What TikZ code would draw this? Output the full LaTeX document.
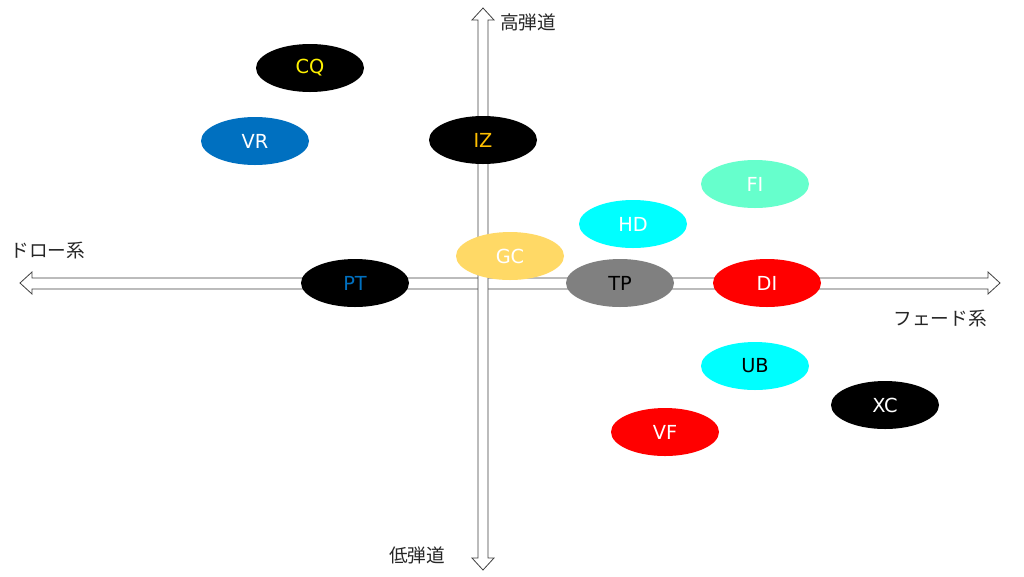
\documentclass[tikz,border=0pt]{standalone}
\usepackage{fontspec}
\setmainfont{DejaVu Sans}
\newfontfamily\jpfont{Noto Sans CJK JP}
\usetikzlibrary{positioning,shapes.geometric}
\definecolor{vrblue}{RGB}{0,112,192}
\definecolor{izorange}{RGB}{255,192,0}
\definecolor{fiaqua}{RGB}{102,255,204}
\definecolor{gcgold}{RGB}{255,217,102}
\definecolor{tpgray}{RGB}{128,128,128}
\definecolor{hdcyan}{RGB}{0,255,255}
\begin{document}
\begin{tikzpicture}[x=0.75pt,y=-0.75pt]
  \tikzstyle{team}=[ellipse,minimum width=81pt,minimum height=36pt,inner sep=0pt,font=\fontsize{14.5}{16}\selectfont]
  \tikzstyle{axis}=[draw=black!75,fill=white,line width=0.6pt]
  \tikzstyle{axlabel}=[font=\jpfont\fontsize{14}{16}\selectfont,text=black!85]

  \useasboundingbox (0,0) rectangle (1024,576);

  % horizontal axis
  \path[axis] (20,283) -- (32,272) -- (32,278) -- (988,278) -- (988,272) -- (1000,283)
    -- (988,294) -- (988,289) -- (32,289) -- (32,294) -- cycle;
  % vertical axis
  \path[axis] (483,8) -- (494,20) -- (488,20) -- (488,558) -- (494,558) -- (483,570)
    -- (472,558) -- (478,558) -- (478,20) -- (472,20) -- cycle;

  \node[axlabel] (draw) at (48,251) {ドロー系};
  \node[axlabel] (fade) at (940,319) {フェード系};
  \node[axlabel] (high) at (528,22) {高弾道};
  \node[axlabel] (low) at (417,555) {低弾道};

  \node[team,fill=black,text=yellow] (cq) at (310,68) {CQ};
  \node[team,fill=vrblue,text=white] (vr) at (255,141) {VR};
  \node[team,fill=black,text=izorange] (iz) at (483,140) {IZ};
  \node[team,fill=fiaqua,text=white] (fi) at (755,184) {FI};
  \node[team,fill=hdcyan,text=white] (hd) at (633,224) {HD};
  \node[team,fill=gcgold,text=white] (gc) at (510,256) {GC};
  \node[team,fill=black,text=vrblue] (pt) at (355,283) {PT};
  \node[team,fill=tpgray,text=black] (tp) at (620,283) {TP};
  \node[team,fill=red,text=white] (di) at (767,283) {DI};
  \node[team,fill=hdcyan,text=black] (ub) at (755,366) {UB};
  \node[team,fill=black,text=white] (xc) at (885,405) {XC};
  \node[team,fill=red,text=white] (vf) at (665,432) {VF};
\end{tikzpicture}
\end{document}
